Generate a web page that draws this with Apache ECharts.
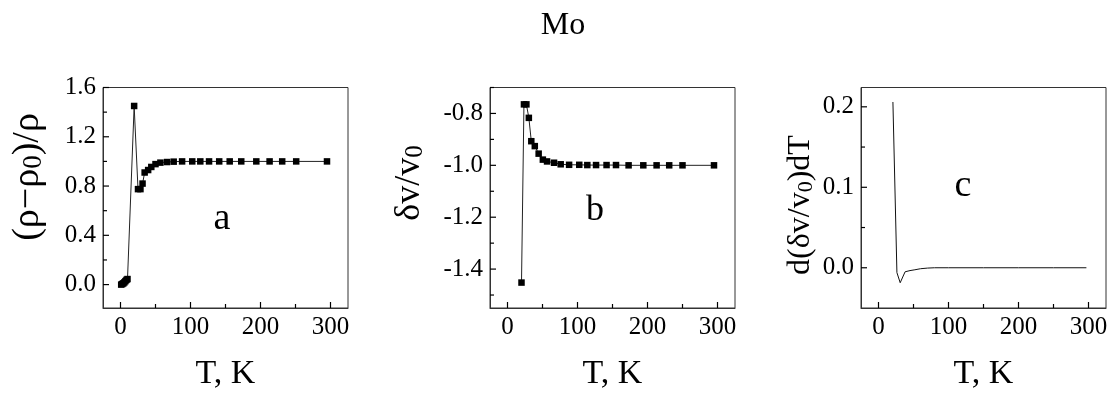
<!DOCTYPE html>
<html>
<head>
<meta charset="utf-8">
<script src="https://cdn.jsdelivr.net/npm/echarts@6/dist/echarts.min.js"></script>
<style>
  html, body { margin: 0; padding: 0; background: #fff; }
  #chart { width: 1115px; height: 396px; }
</style>
</head>
<body>
<div id="chart"></div>
<script>
// panel a: (rho - rho0)/rho vs T
const tempA = [1, 2.5, 4, 5.5, 7, 8.5, 10, 19.5, 25, 28.5, 31.5, 34.5, 39.5, 44, 50, 57, 66.5, 76, 88, 102.5, 114, 126.5, 141, 156, 172.5, 194, 213, 231, 251, 295];
const rhoA = [0.0, 0.005, 0.01, 0.018, 0.028, 0.038, 0.045, 1.45, 0.775, 0.775, 0.82, 0.91, 0.93, 0.955, 0.978, 0.99, 0.995, 0.998, 1.0, 1.0, 1.0, 1.0, 1.0, 1.0, 1.0, 1.0, 1.0, 1.0, 1.0, 1.0];

// panel b: dv/v0 vs T
const tempB = [20, 23.5, 27, 30.5, 34, 39, 44.5, 50.5, 56.5, 66.5, 76, 88, 102.5, 114, 126.5, 141.5, 155, 173, 194, 213, 231, 250, 295];
const dvB = [-1.452, -0.765, -0.765, -0.817, -0.907, -0.926, -0.955, -0.978, -0.985, -0.99, -0.996, -0.998, -0.998, -0.999, -0.999, -0.999, -0.999, -1.0, -1.0, -1.0, -1.0, -1.0, -1.0];

// panel c: d(dv/v0)/dT vs T
const tempC = [20.6, 26.3, 31, 38, 45, 52, 60, 70, 80, 100, 150, 200, 250, 297];
const derivC = [0.206, -0.006, -0.0186, -0.005, -0.0035, -0.0025, -0.0012, -0.0004, 0, 0, 0, 0, 0, 0];

const xMajor = [0, 100, 200, 300];
const xMinor = [50, 150, 250];
const yMajorA = [0, 0.4, 0.8, 1.2, 1.6];
const yMinorA = [0.2, 0.6, 1.0, 1.4];
const yMajorB = [-1.4, -1.2, -1.0, -0.8];
const yMinorB = [-1.5, -1.3, -1.1, -0.9, -0.7];
const yMajorC = [0, 0.1, 0.2];
const yMinorC = [0.05, 0.15];

const FONT = "'Liberation Serif', 'DejaVu Serif', serif";
const AXIS_COLOR = "#333";

const zip = (xs, ys) => xs.map((x, i) => [x, ys[i]]);

const gridLefts = [103, 490, 861];
const grids = gridLefts.map((left) => ({
  left, top: 87.5, width: 245, height: 220.5,
  show: true, borderColor: AXIS_COLOR, borderWidth: 1, backgroundColor: "transparent",
}));

const X_MIN = -25;
const X_MAX = 325;
const yRanges = [
  [-0.19, 1.6, yMajorA, yMinorA],
  [-1.55, -0.70, yMajorB, yMinorB],
  [-0.05, 0.224, yMajorC, yMinorC],
];

const valueAxis = (gridIndex, dim, min, max, ticks) => ({
  type: "value",
  gridIndex, min, max,
  position: dim === "x" ? "bottom" : "left",
  axisLine: { show: true, onZero: false, lineStyle: { color: AXIS_COLOR, width: 1 } },
  axisTick: { show: false },
  axisLabel: {
    customValues: ticks, color: "#000", fontFamily: FONT, fontSize: 25, margin: 7,
    formatter: dim === "x" ? (v) => `${v}` : (v) => Number(v).toFixed(1),
  },
  splitLine: { show: false },
});

const xAxes = [0, 1, 2].map((g) => valueAxis(g, "x", X_MIN, X_MAX, xMajor));
const yAxes = yRanges.map(([lo, hi, major], g) => valueAxis(g, "y", lo, hi, major));

// inward ticks placed through the axis scale (major 6px, minor 4px)
const tickSeries = (g, dim, values, len) => ({
  type: "custom",
  xAxisIndex: g, yAxisIndex: g,
  silent: true,
  z: 5,
  data: values.map((v) => (dim === "x" ? [v, yRanges[g][0]] : [X_MIN, v])),
  renderItem: (params, api) => {
    const p = api.coord([api.value(0), api.value(1)]);
    const shape = dim === "x"
      ? { x1: p[0], y1: p[1], x2: p[0], y2: p[1] - len }
      : { x1: p[0], y1: p[1], x2: p[0] + len, y2: p[1] };
    return { type: "line", shape, style: { stroke: "#000", lineWidth: 1.2 } };
  },
});

const ticks = [];
[0, 1, 2].forEach((g) => {
  ticks.push(tickSeries(g, "x", xMajor, 6));
  ticks.push(tickSeries(g, "x", xMinor, 4));
  ticks.push(tickSeries(g, "y", yRanges[g][2], 6));
  ticks.push(tickSeries(g, "y", yRanges[g][3], 4));
});

const pointSeries = (g, data) => ({
  type: "line",
  xAxisIndex: g, yAxisIndex: g,
  data,
  symbol: "rect", symbolSize: 6.5,
  itemStyle: { color: "#000" },
  lineStyle: { color: "#222", width: 1 },
});

const nameText = (x, y, parts, size) => ({
  type: "text", x, y, rotation: Math.PI / 2,
  style: {
    text: parts,
    align: "center", verticalAlign: "middle",
    font: `${size}px ${FONT}`,
    fill: "#000",
    rich: {
      n: { fontFamily: FONT, fontSize: size, fill: "#000" },
      s: { fontFamily: FONT, fontSize: Math.round(size * 0.7), fill: "#000", verticalAlign: "bottom" },
    },
  },
});

const plainText = (x, y, text, size) => ({
  type: "text", x, y,
  style: { text, font: `${size}px ${FONT}`, fill: "#000", align: "center", verticalAlign: "middle" },
});

const chart = echarts.init(document.getElementById("chart"));
chart.setOption({
  animation: false,
  grid: grids,
  xAxis: xAxes,
  yAxis: yAxes,
  series: [
    pointSeries(0, zip(tempA, rhoA)),
    pointSeries(1, zip(tempB, dvB)),
    {
      type: "line",
      xAxisIndex: 2, yAxisIndex: 2,
      data: zip(tempC, derivC),
      showSymbol: false,
      lineStyle: { color: "#111", width: 1 },
    },
    ...ticks,
  ],
  graphic: [
    plainText(563, 26, "Mo", 32),
    nameText(28, 177, "{n|(ρ−ρ}{s|0}{n|)/ρ}", 38),
    nameText(410, 183, "{n|δv/v}{s|0}", 36),
    nameText(801, 205, "{n|d(δv/v}{s|0}{n|)dT}", 32),
    plainText(225.5, 374, "T, K", 34),
    plainText(612.5, 374, "T, K", 34),
    plainText(983.5, 374, "T, K", 34),
    plainText(222, 219, "a", 38),
    plainText(595, 211, "b", 36),
    plainText(963, 186, "c", 38),
  ],
});
window.addEventListener("resize", () => chart.resize());
</script>
</body>
</html>
